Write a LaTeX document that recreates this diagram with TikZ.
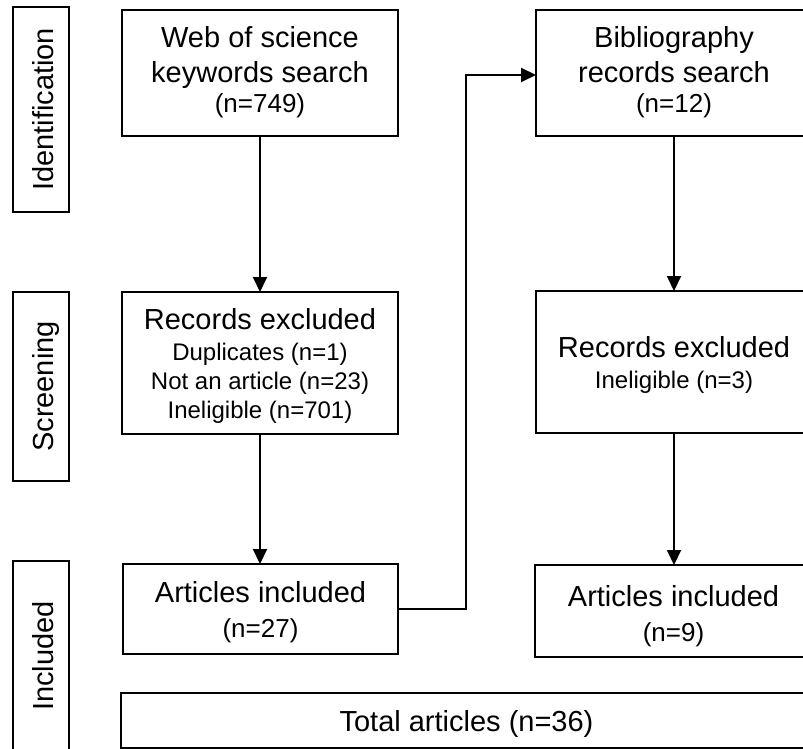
\documentclass[tikz,border=0pt]{standalone}
\usepackage{fontspec}
\setmainfont{Liberation Sans}
\usetikzlibrary{arrows.meta}
\newcommand\mainfs{\fontsize{29}{34}\selectfont}
\newcommand\nfs{\fontsize{26}{34}\selectfont}
\newcommand\smfs{\fontsize{24}{29}\selectfont}
\tikzset{
  box/.style={draw, line width=2.2pt, inner sep=0pt, outer sep=0pt, font=\mainfs},
  lab/.style={draw, line width=2.2pt, inner sep=0pt, outer sep=0pt, rotate=90,
    font=\mainfs, text height=24pt, text depth=0pt, minimum height=56pt},
  arr/.style={line width=2pt, -{Triangle[length=15pt,width=14pt]}},
  conn/.style={line width=2pt}
}
\begin{document}
\begin{tikzpicture}[x=1pt,y=-1pt]
\useasboundingbox (0,0) rectangle (803,749);
\clip (0,0) rectangle (803,749);
% phase labels
\node[lab, minimum width=205pt] (idl) at (41,109.5) {Identification};
\node[lab, minimum width=189pt] (scl) at (41,386.5) {Screening};
\node[lab, minimum width=190pt] (inl) at (41,656) {Included};
% left column
\node[box, minimum width=276pt, minimum height=126pt] (web) at (260,73)
  {\begin{tabular}{@{}c@{}}\rule{0pt}{25pt}Web of science\\[1pt] keywords search\\[-4pt] \nfs (n=749)\end{tabular}};
\node[box, minimum width=276pt, minimum height=142pt] (recl) at (260,363)
  {\smfs\begin{tabular}{@{}c@{}}\rule{0pt}{31pt}\mainfs Records excluded\\[2pt] Duplicates (n=1)\\ Not an article (n=23)\\ Ineligible (n=701)\end{tabular}};
\node[box, minimum width=275pt, minimum height=90pt] (artl) at (260.5,609)
  {\begin{tabular}{@{}c@{}}\rule{0pt}{33pt}Articles included\\[1pt] \nfs (n=27)\end{tabular}};
% right column
\node[box, minimum width=276pt, minimum height=126pt] (bib) at (674,73)
  {\begin{tabular}{@{}c@{}}\rule{0pt}{25pt}Bibliography\\[1pt] records search\\[-4pt] \nfs (n=12)\end{tabular}};
\node[box, minimum width=276pt, minimum height=142pt] (recr) at (674,362)
  {\smfs\begin{tabular}{@{}c@{}}\rule{0pt}{29.7pt}\mainfs Records excluded\\[2pt] Ineligible (n=3)\end{tabular}};
\node[box, minimum width=277pt, minimum height=92pt] (artr) at (673.5,611)
  {\begin{tabular}{@{}c@{}}\rule{0pt}{37pt}Articles included\\[1pt] \nfs (n=9)\end{tabular}};
% total
\node[box, minimum width=691pt, minimum height=55pt] (tot) at (466.5,720.5)
  {\begin{tabular}{@{}c@{}}\rule{0pt}{32.6pt}Total articles (n=36)\end{tabular}};
% connectors
\draw[arr] (web.south) -- (recl.north);
\draw[arr] (recl.south) -- (artl.north -| recl.south);
\draw[arr] (bib.south) -- (recr.north);
\draw[arr] (recr.south) -- (artr.north -| recr.south);
\coordinate (turn) at (466,75);
\draw[arr] (artl.east) -- (artl.east -| turn) -- (turn) -- (turn -| bib.west);
\end{tikzpicture}
\end{document}
